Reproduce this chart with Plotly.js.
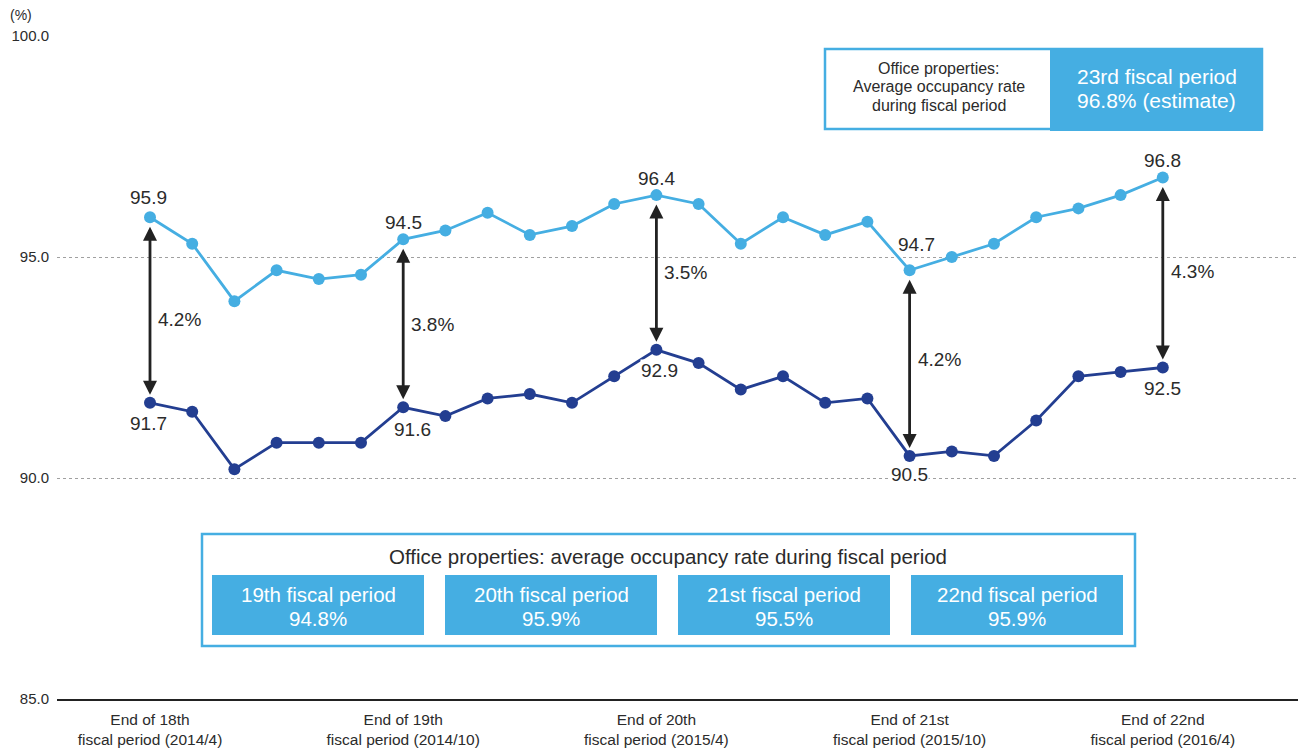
<!DOCTYPE html>
<html>
<head>
<meta charset="utf-8">
<script src="https://cdn.plot.ly/plotly-3.0.1.min.js"></script>
<style>html,body{margin:0;padding:0;background:#fff;}#chart{width:1298px;height:751px;}</style>
</head>
<body>
<div id="chart"></div>
<script>
// ---- data ----
const upperRate = [95.9, 95.3, 94.0, 94.7, 94.5, 94.6, 95.4, 95.6, 96.0, 95.5, 95.7, 96.2, 96.4,
                   96.2, 95.3, 95.9, 95.5, 95.8, 94.7, 95.0, 95.3, 95.9, 96.1, 96.4, 96.8];
const lowerRate = [91.7, 91.5, 90.2, 90.8, 90.8, 90.8, 91.6, 91.4, 91.8, 91.9, 91.7, 92.3, 92.9,
                   92.6, 92.0, 92.3, 91.7, 91.8, 90.5, 90.6, 90.5, 91.3, 92.3, 92.4, 92.5];
const markIdx = [0, 6, 12, 18, 24];
const xTickLabels = ['End of 18th<br>fiscal period (2014/4)', 'End of 19th<br>fiscal period (2014/10)',
                     'End of 20th<br>fiscal period (2015/4)', 'End of 21st<br>fiscal period (2015/10)',
                     'End of 22nd<br>fiscal period (2016/4)'];
const upperLabels = ['95.9', '94.5', '96.4', '94.7', '96.8'];
const lowerLabels = ['91.7', '91.6', '92.9', '90.5', '92.5'];
const gapLabels = ['4.2%', '3.8%', '3.5%', '4.2%', '4.3%'];
const yTicks = [85, 90, 95, 100];
const yTickLabels = ['85.0', '90.0', '95.0', '100.0'];
const periodNames = ['19th fiscal period', '20th fiscal period', '21st fiscal period', '22nd fiscal period'];
const periodRates = ['94.8%', '95.9%', '95.5%', '95.9%'];
const estimateLines = ['23rd fiscal period', '96.8% (estimate)'];
const boxTitle = 'Office properties: average occupancy rate during fiscal period';
const legendLines = ['Office properties:', 'Average occupancy rate', 'during fiscal period'];

// ---- styles ----
const LIGHT = '#45aee2';
const DARK = '#233e91';
const TXT = '#2b2b2b';
const FONT = 'Liberation Sans, Arial, sans-serif';
const L = 57, R = 1298, T = 36, B = 699;
const px = x => (x - L) / (R - L);
const py = y => (B - y) / (B - T);
const xs = upperRate.map((_, i) => i);

const traces = [
  {x: xs, y: upperRate, type: 'scatter', mode: 'lines+markers',
   line: {color: LIGHT, width: 2.8}, marker: {color: LIGHT, size: 12}, hoverinfo: 'skip'},
  {x: xs, y: lowerRate, type: 'scatter', mode: 'lines+markers',
   line: {color: DARK, width: 2.8}, marker: {color: DARK, size: 12}, hoverinfo: 'skip'}
];

function note(xp, yp, text, size, color, extra) {
  return Object.assign({xref: 'paper', yref: 'paper', x: px(xp), y: py(yp), text: text, showarrow: false,
    xanchor: 'center', yanchor: 'middle', font: {family: FONT, size: size, color: color}}, extra || {});
}

const annotations = [];
const upShift = [[-2, 20], [0, 17], [0, 17], [7, 26], [0, 17]];
const loShift = [[-2, -21], [9, -22], [3, -21], [0, -19], [0, -21]];
const gapShift = [9, 1, 0, -4, -1];
markIdx.forEach((i, k) => {
  annotations.push({x: i, y: lowerRate[i], ax: i, ay: upperRate[i], xref: 'x', yref: 'y', axref: 'x', ayref: 'y',
    showarrow: true, arrowside: 'end+start', arrowhead: 2, startarrowhead: 2, arrowsize: 1, startarrowsize: 1,
    arrowwidth: 2.8, arrowcolor: '#222', standoff: 8, startstandoff: 8, text: ''});
  annotations.push({x: i, y: upperRate[i], xref: 'x', yref: 'y', showarrow: false, text: upperLabels[k],
    xanchor: 'center', yanchor: 'middle',
    xshift: upShift[k][0], yshift: upShift[k][1], font: {family: FONT, size: 19, color: TXT}});
  annotations.push({x: i, y: lowerRate[i], xref: 'x', yref: 'y', showarrow: false, text: lowerLabels[k],
    xanchor: 'center', yanchor: 'middle',
    xshift: loShift[k][0], yshift: loShift[k][1], bgcolor: '#fff', borderpad: 0,
    font: {family: FONT, size: 19, color: TXT}});
  annotations.push({x: i, y: (upperRate[i] + lowerRate[i]) / 2, xref: 'x', yref: 'y', showarrow: false,
    text: gapLabels[k], xanchor: 'left', yanchor: 'middle', xshift: 6, yshift: -gapShift[k],
    font: {family: FONT, size: 19, color: TXT}});
});

// (%) unit
annotations.push(note(21, 15, '(%)', 14, TXT));

// top-right legend box
const legendY = [68, 87, 106];
legendLines.forEach((t, k) => annotations.push(note(939, legendY[k], t, 16, TXT)));
const estY = [76, 101];
estimateLines.forEach((t, k) => annotations.push(note(1075, estY[k], t, 21, '#fff', {xanchor: 'left'})));

// bottom box
annotations.push(note(668, 556, boxTitle, 20.5, TXT));
const boxX = [212, 445, 678, 911], boxW = 212;
const shapes = [
  {type: 'rect', xref: 'paper', yref: 'paper', x0: px(825), x1: px(1262), y0: py(129), y1: py(49),
   line: {color: LIGHT, width: 2.5}, fillcolor: '#fff', layer: 'below'},
  {type: 'rect', xref: 'paper', yref: 'paper', x0: px(1050), x1: px(1263), y0: py(131), y1: py(48),
   line: {width: 0}, fillcolor: LIGHT, layer: 'below'},
  {type: 'rect', xref: 'paper', yref: 'paper', x0: px(202), x1: px(1135), y0: py(646), y1: py(534),
   line: {color: LIGHT, width: 2.5}, fillcolor: '#fff', layer: 'below'}
];
periodNames.forEach((n, k) => {
  shapes.push({type: 'rect', xref: 'paper', yref: 'paper', x0: px(boxX[k]), x1: px(boxX[k] + boxW),
    y0: py(635), y1: py(575), line: {width: 0}, fillcolor: LIGHT, layer: 'below'});
  annotations.push(note(boxX[k] + boxW / 2, 594, n, 20.5, '#fff'));
  annotations.push(note(boxX[k] + boxW / 2, 618, periodRates[k], 20.5, '#fff'));
});

const layout = {
  width: 1298, height: 751,
  margin: {l: L, r: 1298 - R, t: T, b: 751 - B, pad: 0},
  paper_bgcolor: '#fff', plot_bgcolor: 'rgba(0,0,0,0)',
  showlegend: false,
  font: {family: FONT, color: TXT},
  xaxis: {range: [(L - 150) / 42.2, (R - 150) / 42.2], tickvals: markIdx, ticktext: xTickLabels,
    showgrid: false, zeroline: false, showline: true, linecolor: '#222', linewidth: 1.5,
    ticks: '', tickfont: {family: FONT, size: 15.5, color: TXT}, ticklabelstandoff: 6},
  yaxis: {range: [85, 100], tickvals: yTicks, ticktext: yTickLabels, showgrid: true,
    gridcolor: '#a0a0a0', griddash: 'dot', gridwidth: 1, zeroline: false, showline: false,
    ticks: '', tickfont: {family: FONT, size: 15, color: TXT}, ticklabelstandoff: 7},
  shapes: shapes,
  annotations: annotations
};

Plotly.newPlot('chart', traces, layout, {displayModeBar: false, staticPlot: true});
</script>
</body>
</html>
